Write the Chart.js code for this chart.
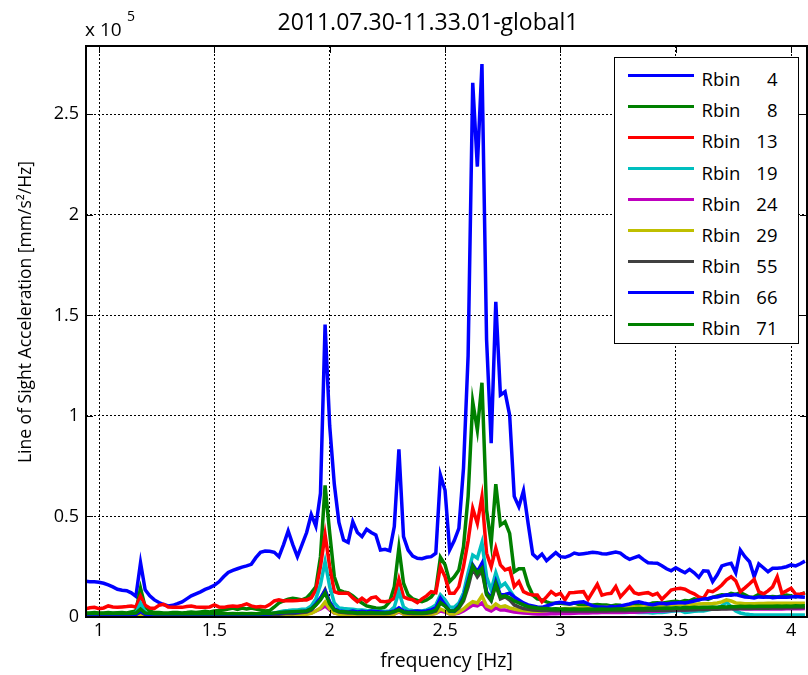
<!DOCTYPE html>
<html><head><meta charset="utf-8">
<script src="https://cdn.jsdelivr.net/npm/chart.js@4.4.1/dist/chart.umd.min.js"></script>
<style>
html,body{margin:0;padding:0;background:#fff;}
#wrap{position:relative;width:808px;height:675px;font-family:"Open Sans",sans-serif;color:#000;}
#c{position:absolute;left:0;top:0;}
#legend{position:absolute;left:614px;top:57px;width:185px;height:287px;box-sizing:border-box;border:1.5px solid #000;background:#fff;}
.row{position:absolute;left:0;width:100%;height:30px;}
.sw{position:absolute;left:12.5px;width:66px;height:3px;top:13.5px;}
.lb{position:absolute;left:86.5px;top:4px;line-height:30px;font-size:18.5px;}
.nm{position:absolute;right:20.5px;top:4px;line-height:30px;font-size:18.5px;}
</style>
</head><body>
<div id="wrap">
<canvas id="c" width="808" height="675"></canvas>
<div id="legend"></div>
</div>
<script>
const chartTitle = '2011.07.30-11.33.01-global1';
const xTitle = 'frequency [Hz]';
const yTitle = 'Line of Sight Acceleration [mm/s\u00B2/Hz]';
const yMultiplier = ['x 10', '5'];
const xTickValues = [1, 1.5, 2, 2.5, 3, 3.5, 4];
const yTickValues = [0, 0.5, 1, 1.5, 2, 2.5];
const binNumbers = [4, 8, 13, 19, 24, 29, 55, 66, 71];
const seriesColors = ['#0000ff', '#008000', '#ff0000', '#00bfbf', '#bf00bf', '#bfbf00', '#404040', '#0000ff', '#008000'];

// frequency [Hz]
const freq = [
0.94,0.96,0.98,1.00,1.02,1.04,1.06,1.08,1.10,1.12,
1.14,1.16,1.18,1.20,1.22,1.24,1.26,1.28,1.30,1.32,
1.34,1.36,1.38,1.40,1.42,1.44,1.46,1.48,1.50,1.52,
1.54,1.56,1.58,1.60,1.62,1.64,1.66,1.68,1.70,1.72,
1.74,1.76,1.78,1.80,1.82,1.84,1.86,1.88,1.90,1.92,
1.94,1.96,1.98,2.00,2.02,2.04,2.06,2.08,2.10,2.12,
2.14,2.16,2.18,2.20,2.22,2.24,2.26,2.28,2.30,2.32,
2.34,2.36,2.38,2.40,2.42,2.44,2.46,2.48,2.50,2.52,
2.54,2.56,2.58,2.60,2.62,2.64,2.66,2.68,2.70,2.72,
2.74,2.76,2.78,2.80,2.82,2.84,2.86,2.88,2.90,2.92,
2.94,2.96,2.98,3.00,3.02,3.04,3.06,3.08,3.10,3.12,
3.14,3.16,3.18,3.20,3.22,3.24,3.26,3.28,3.30,3.32,
3.34,3.36,3.38,3.40,3.42,3.44,3.46,3.48,3.50,3.52,
3.54,3.56,3.58,3.60,3.62,3.64,3.66,3.68,3.70,3.72,
3.74,3.76,3.78,3.80,3.82,3.84,3.86,3.88,3.90,3.92,
3.94,3.96,3.98,4.00,4.02,4.04,4.06];

// values in units of 10^5 mm/s^2/Hz
const rbin4 = [
0.178,0.175,0.175,0.173,0.168,0.160,0.150,0.138,0.133,0.131,
0.120,0.103,0.270,0.135,0.105,0.085,0.072,0.062,0.055,0.058,
0.066,0.075,0.090,0.105,0.115,0.125,0.137,0.146,0.158,0.175,
0.200,0.222,0.232,0.240,0.248,0.254,0.262,0.295,0.322,0.328,
0.327,0.322,0.300,0.360,0.428,0.360,0.300,0.360,0.420,0.510,
0.452,0.615,1.455,0.950,0.660,0.470,0.383,0.371,0.474,0.420,
0.400,0.436,0.420,0.408,0.333,0.337,0.330,0.450,0.834,0.400,
0.333,0.303,0.292,0.290,0.297,0.300,0.317,0.706,0.630,0.333,
0.380,0.441,0.740,1.300,2.657,2.240,2.750,1.380,0.864,1.568,
1.104,1.120,1.004,0.600,0.549,0.628,0.466,0.313,0.292,0.313,
0.280,0.300,0.320,0.300,0.297,0.305,0.318,0.312,0.315,0.318,
0.322,0.320,0.315,0.313,0.318,0.323,0.318,0.300,0.287,0.295,
0.303,0.285,0.270,0.268,0.267,0.255,0.240,0.230,0.245,0.232,
0.220,0.237,0.220,0.197,0.230,0.228,0.176,0.210,0.254,0.262,
0.267,0.220,0.333,0.300,0.275,0.200,0.264,0.245,0.225,0.242,
0.243,0.245,0.250,0.259,0.254,0.265,0.278];

const rbin8 = [
0.020,0.020,0.022,0.020,0.020,0.022,0.020,0.021,0.022,0.020,
0.025,0.030,0.143,0.050,0.030,0.022,0.022,0.020,0.020,0.022,
0.022,0.020,0.022,0.025,0.022,0.025,0.028,0.025,0.030,0.032,
0.035,0.040,0.045,0.038,0.045,0.040,0.045,0.040,0.035,0.030,
0.032,0.050,0.070,0.080,0.088,0.093,0.090,0.085,0.095,0.120,
0.150,0.300,0.655,0.418,0.200,0.134,0.125,0.120,0.105,0.085,
0.070,0.055,0.050,0.045,0.043,0.050,0.076,0.150,0.345,0.168,
0.110,0.090,0.082,0.076,0.085,0.100,0.130,0.297,0.260,0.176,
0.200,0.234,0.350,0.600,1.070,0.930,1.165,0.532,0.366,0.661,
0.457,0.474,0.416,0.225,0.240,0.240,0.160,0.109,0.090,0.085,
0.075,0.068,0.068,0.068,0.066,0.065,0.070,0.062,0.060,0.058,
0.060,0.062,0.060,0.060,0.055,0.060,0.058,0.048,0.062,0.066,
0.060,0.055,0.062,0.070,0.071,0.068,0.072,0.076,0.078,0.075,
0.082,0.080,0.090,0.085,0.095,0.088,0.098,0.105,0.110,0.108,
0.118,0.112,0.121,0.110,0.098,0.100,0.112,0.105,0.100,0.102,
0.100,0.105,0.109,0.105,0.100,0.110,0.121];

const rbin13 = [
0.040,0.046,0.048,0.041,0.045,0.055,0.050,0.048,0.050,0.052,
0.055,0.050,0.104,0.058,0.045,0.043,0.058,0.063,0.050,0.048,
0.048,0.048,0.052,0.055,0.050,0.048,0.048,0.050,0.060,0.050,
0.048,0.052,0.055,0.052,0.058,0.065,0.055,0.050,0.052,0.050,
0.062,0.080,0.085,0.080,0.082,0.081,0.082,0.085,0.085,0.095,
0.134,0.250,0.410,0.250,0.126,0.118,0.118,0.118,0.095,0.076,
0.093,0.076,0.095,0.100,0.078,0.076,0.080,0.093,0.187,0.100,
0.090,0.085,0.071,0.090,0.105,0.126,0.121,0.250,0.200,0.118,
0.118,0.151,0.250,0.380,0.540,0.466,0.598,0.317,0.250,0.342,
0.259,0.234,0.242,0.151,0.176,0.126,0.115,0.109,0.109,0.076,
0.100,0.126,0.109,0.118,0.085,0.121,0.122,0.124,0.126,0.088,
0.125,0.163,0.109,0.115,0.118,0.151,0.100,0.125,0.151,0.121,
0.114,0.118,0.121,0.109,0.118,0.088,0.110,0.134,0.140,0.143,
0.138,0.125,0.115,0.100,0.093,0.130,0.126,0.140,0.159,0.185,
0.200,0.180,0.126,0.145,0.165,0.187,0.126,0.115,0.130,0.150,
0.200,0.118,0.130,0.143,0.113,0.115,0.118];

const rbin19 = [
0.012,0.012,0.013,0.012,0.012,0.013,0.012,0.012,0.013,0.012,
0.015,0.020,0.068,0.025,0.012,0.010,0.010,0.010,0.010,0.010,
0.010,0.010,0.010,0.010,0.010,0.010,0.010,0.010,0.010,0.010,
0.010,0.010,0.012,0.010,0.012,0.010,0.012,0.010,0.010,0.012,
0.015,0.020,0.025,0.030,0.032,0.035,0.035,0.038,0.040,0.055,
0.090,0.160,0.275,0.150,0.070,0.045,0.042,0.040,0.038,0.035,
0.035,0.032,0.030,0.030,0.028,0.028,0.030,0.050,0.126,0.050,
0.035,0.032,0.030,0.030,0.035,0.045,0.060,0.110,0.085,0.050,
0.048,0.070,0.120,0.220,0.308,0.292,0.370,0.200,0.134,0.220,
0.151,0.168,0.134,0.100,0.076,0.060,0.050,0.045,0.040,0.038,
0.035,0.035,0.032,0.030,0.030,0.028,0.028,0.030,0.028,0.028,
0.026,0.026,0.025,0.025,0.024,0.025,0.024,0.023,0.024,0.024,
0.022,0.022,0.022,0.020,0.022,0.022,0.025,0.028,0.030,0.032,
0.022,0.025,0.028,0.030,0.030,0.035,0.040,0.045,0.055,0.075,
0.050,0.030,0.020,0.015,0.012,0.010,0.010,0.010,0.010,0.010,
0.010,0.010,0.010,0.010,0.010,0.010,0.010];

const rbin24 = [
0.006,0.006,0.006,0.006,0.006,0.006,0.006,0.006,0.006,0.006,
0.006,0.008,0.015,0.008,0.006,0.005,0.005,0.005,0.005,0.005,
0.005,0.005,0.005,0.005,0.005,0.005,0.005,0.005,0.005,0.005,
0.005,0.005,0.006,0.005,0.006,0.005,0.006,0.006,0.005,0.006,
0.007,0.008,0.010,0.012,0.012,0.013,0.014,0.015,0.016,0.020,
0.030,0.040,0.055,0.035,0.020,0.016,0.015,0.014,0.013,0.012,
0.012,0.012,0.011,0.011,0.011,0.011,0.012,0.015,0.025,0.015,
0.012,0.011,0.011,0.011,0.012,0.014,0.018,0.030,0.025,0.015,
0.015,0.020,0.030,0.045,0.060,0.055,0.070,0.040,0.030,0.045,
0.035,0.035,0.030,0.025,0.022,0.020,0.018,0.016,0.015,0.015,
0.015,0.016,0.016,0.017,0.018,0.018,0.019,0.020,0.020,0.020,
0.021,0.021,0.022,0.022,0.022,0.023,0.023,0.024,0.024,0.024,
0.025,0.026,0.027,0.028,0.029,0.030,0.031,0.032,0.033,0.034,
0.035,0.036,0.037,0.038,0.039,0.040,0.040,0.041,0.042,0.042,
0.042,0.041,0.041,0.040,0.040,0.040,0.040,0.040,0.040,0.040,
0.040,0.040,0.041,0.041,0.041,0.041,0.042];

const rbin29 = [
0.005,0.005,0.005,0.005,0.005,0.005,0.005,0.005,0.005,0.005,
0.005,0.006,0.012,0.006,0.005,0.004,0.004,0.004,0.004,0.004,
0.004,0.004,0.004,0.004,0.004,0.004,0.004,0.004,0.004,0.004,
0.004,0.004,0.005,0.004,0.005,0.004,0.005,0.005,0.004,0.005,
0.006,0.007,0.008,0.010,0.010,0.011,0.012,0.013,0.014,0.018,
0.030,0.045,0.075,0.040,0.020,0.013,0.012,0.011,0.010,0.010,
0.010,0.010,0.010,0.010,0.010,0.010,0.011,0.015,0.030,0.015,
0.010,0.010,0.010,0.010,0.011,0.013,0.018,0.040,0.030,0.015,
0.015,0.025,0.040,0.060,0.076,0.070,0.105,0.055,0.045,0.065,
0.050,0.055,0.045,0.040,0.035,0.032,0.030,0.028,0.028,0.030,
0.032,0.035,0.038,0.040,0.042,0.042,0.044,0.045,0.045,0.046,
0.046,0.047,0.048,0.048,0.048,0.049,0.050,0.050,0.050,0.050,
0.050,0.051,0.052,0.053,0.054,0.055,0.056,0.058,0.060,0.062,
0.062,0.063,0.064,0.065,0.066,0.066,0.067,0.070,0.075,0.085,
0.080,0.070,0.068,0.066,0.066,0.066,0.067,0.067,0.068,0.068,
0.068,0.068,0.068,0.068,0.068,0.068,0.068];

const rbin55 = [
0.010,0.010,0.010,0.010,0.010,0.010,0.010,0.010,0.010,0.010,
0.010,0.012,0.025,0.012,0.010,0.008,0.008,0.008,0.008,0.008,
0.008,0.008,0.008,0.008,0.008,0.008,0.008,0.008,0.008,0.008,
0.008,0.008,0.009,0.008,0.009,0.008,0.009,0.008,0.008,0.009,
0.010,0.012,0.014,0.016,0.018,0.018,0.020,0.022,0.025,0.035,
0.060,0.090,0.135,0.070,0.035,0.025,0.022,0.020,0.020,0.018,
0.018,0.018,0.017,0.017,0.017,0.017,0.018,0.025,0.040,0.022,
0.018,0.017,0.017,0.017,0.018,0.022,0.030,0.070,0.055,0.030,
0.028,0.045,0.080,0.150,0.242,0.200,0.230,0.110,0.080,0.160,
0.090,0.100,0.085,0.060,0.050,0.042,0.038,0.035,0.033,0.032,
0.032,0.032,0.031,0.031,0.030,0.030,0.030,0.030,0.030,0.030,
0.030,0.030,0.030,0.030,0.031,0.031,0.031,0.031,0.032,0.032,
0.032,0.032,0.033,0.033,0.033,0.034,0.034,0.034,0.035,0.035,
0.035,0.036,0.036,0.037,0.037,0.038,0.038,0.039,0.040,0.040,
0.041,0.041,0.042,0.042,0.042,0.043,0.043,0.044,0.044,0.045,
0.045,0.045,0.046,0.046,0.046,0.047,0.047];

const rbin66 = [
0.012,0.012,0.012,0.012,0.012,0.012,0.012,0.012,0.012,0.012,
0.012,0.014,0.030,0.015,0.012,0.010,0.010,0.010,0.010,0.010,
0.010,0.010,0.010,0.010,0.010,0.010,0.010,0.010,0.010,0.010,
0.010,0.010,0.011,0.010,0.011,0.010,0.011,0.012,0.012,0.014,
0.015,0.018,0.020,0.022,0.024,0.025,0.025,0.028,0.030,0.040,
0.065,0.095,0.130,0.075,0.040,0.030,0.028,0.025,0.030,0.025,
0.028,0.025,0.030,0.028,0.025,0.022,0.025,0.030,0.045,0.030,
0.025,0.028,0.030,0.028,0.030,0.035,0.045,0.093,0.060,0.030,
0.030,0.055,0.100,0.180,0.259,0.225,0.267,0.126,0.093,0.176,
0.109,0.112,0.118,0.100,0.085,0.070,0.060,0.055,0.050,0.048,
0.055,0.062,0.070,0.073,0.070,0.065,0.070,0.074,0.076,0.065,
0.055,0.050,0.050,0.048,0.052,0.050,0.055,0.060,0.065,0.072,
0.076,0.070,0.065,0.060,0.066,0.068,0.065,0.068,0.070,0.072,
0.070,0.075,0.080,0.085,0.090,0.092,0.098,0.100,0.105,0.110,
0.108,0.112,0.105,0.100,0.098,0.095,0.100,0.098,0.100,0.096,
0.098,0.100,0.098,0.100,0.102,0.100,0.098];

const rbin71 = [
0.018,0.018,0.018,0.018,0.018,0.018,0.018,0.018,0.018,0.018,
0.018,0.020,0.040,0.020,0.018,0.016,0.016,0.016,0.016,0.016,
0.016,0.016,0.016,0.016,0.016,0.016,0.016,0.016,0.016,0.016,
0.016,0.016,0.017,0.016,0.017,0.016,0.017,0.016,0.016,0.018,
0.018,0.020,0.022,0.024,0.025,0.026,0.027,0.028,0.030,0.040,
0.060,0.085,0.120,0.065,0.035,0.028,0.026,0.024,0.022,0.020,
0.022,0.020,0.022,0.020,0.020,0.020,0.022,0.028,0.035,0.025,
0.022,0.022,0.020,0.020,0.022,0.026,0.035,0.072,0.055,0.030,
0.030,0.050,0.090,0.170,0.254,0.217,0.242,0.115,0.085,0.165,
0.100,0.105,0.095,0.080,0.070,0.060,0.052,0.048,0.045,0.042,
0.042,0.040,0.041,0.039,0.040,0.038,0.040,0.039,0.038,0.040,
0.039,0.038,0.040,0.039,0.038,0.040,0.041,0.039,0.040,0.041,
0.042,0.041,0.043,0.042,0.044,0.043,0.045,0.044,0.046,0.045,
0.047,0.046,0.048,0.047,0.049,0.048,0.050,0.049,0.051,0.050,
0.052,0.051,0.053,0.052,0.053,0.052,0.054,0.053,0.054,0.053,
0.055,0.054,0.055,0.054,0.056,0.055,0.056];

const seriesValues = [rbin4, rbin8, rbin13, rbin19, rbin24, rbin29, rbin55, rbin66, rbin71];

const FONT = '"Open Sans", sans-serif';
Chart.defaults.font.family = FONT;
Chart.defaults.color = '#000';

const datasets = seriesValues.map((vals, i) => ({
  label: 'Rbin ' + binNumbers[i],
  data: freq.map((f, k) => ({x: f, y: vals[k]})),
  borderColor: seriesColors[i],
  backgroundColor: seriesColors[i],
  borderWidth: 3.5,
  pointRadius: 0,
  tension: 0,
  fill: false,
  order: seriesValues.length - i,
  clip: {left: 0, right: 0, top: 5, bottom: 5}
}));

const frame = {
  id: 'frame',
  afterDraw(chart) {
    const {ctx, chartArea: a, scales: {x, y}} = chart;
    ctx.save();
    ctx.strokeStyle = '#000';
    ctx.lineWidth = 1;
    const L = 7;
    ctx.beginPath();
    x.ticks.forEach(t => {
      const px = Math.round(x.getPixelForValue(t.value)) + 0.5;
      ctx.moveTo(px, a.bottom); ctx.lineTo(px, a.bottom - L);
      ctx.moveTo(px, a.top); ctx.lineTo(px, a.top + L);
    });
    y.ticks.forEach(t => {
      const py = Math.round(y.getPixelForValue(t.value)) + 0.5;
      ctx.moveTo(a.left, py); ctx.lineTo(a.left + L, py);
      ctx.moveTo(a.right, py); ctx.lineTo(a.right - L, py);
    });
    ctx.stroke();
    ctx.lineWidth = 2;
    ctx.strokeRect(a.left, a.top, a.right - a.left, a.bottom - a.top);
    ctx.fillStyle = '#000';
    ctx.textBaseline = 'alphabetic';
    ctx.textAlign = 'center';
    ctx.font = '23px ' + FONT;
    ctx.fillText(chartTitle, 428, 30);
    ctx.textAlign = 'left';
    ctx.font = '19px ' + FONT;
    ctx.fillText(yMultiplier[0], 85, 36);
    ctx.font = '14px ' + FONT;
    ctx.fillText(yMultiplier[1], 127, 21);
    ctx.translate(26, 312);
    ctx.rotate(-Math.PI / 2);
    ctx.textAlign = 'center';
    ctx.textBaseline = 'middle';
    ctx.font = '17.5px ' + FONT;
    ctx.fillText(yTitle, 0, 0);
    ctx.restore();
  }
};

new Chart(document.getElementById('c'), {
  type: 'line',
  data: {datasets},
  options: {
    responsive: false,
    animation: false,
    events: [],
    layout: {padding: {top: 46, right: 1, bottom: 0, left: 0}},
    plugins: {legend: {display: false}, title: {display: false}, tooltip: {enabled: false}},
    scales: {
      x: {
        type: 'linear',
        min: 0.9436,
        max: 4.069,
        ticks: {font: {size: 18}, padding: 3, maxRotation: 0, callback: v => String(v)},
        afterBuildTicks: s => { s.ticks = xTickValues.map(v => ({value: v})); },
        afterFit: s => { s.height = 58; },
        grid: {color: '#000', lineWidth: 1, drawTicks: false},
        border: {display: false, dash: [2, 2]},
        title: {display: true, text: xTitle, font: {size: 19.5}, padding: {top: 0, bottom: 2}}
      },
      y: {
        type: 'linear',
        min: 0,
        max: 2.84,
        ticks: {font: {size: 18}, padding: 7, callback: v => String(v)},
        afterBuildTicks: s => { s.ticks = yTickValues.map(v => ({value: v})); },
        afterFit: s => { s.width = 86; },
        grid: {color: '#000', lineWidth: 1, drawTicks: false},
        border: {display: false, dash: [2, 2]}
      }
    }
  },
  plugins: [frame]
});

// legend (HTML)
const leg = document.getElementById('legend');
binNumbers.forEach((b, i) => {
  const row = document.createElement('div');
  row.className = 'row';
  row.style.top = (17.2 + 31.1 * i - 15) + 'px';
  const sw = document.createElement('div');
  sw.className = 'sw';
  sw.style.background = seriesColors[i];
  const lb = document.createElement('span');
  lb.className = 'lb';
  lb.textContent = 'Rbin';
  const nm = document.createElement('span');
  nm.className = 'nm';
  nm.textContent = String(b);
  row.appendChild(sw); row.appendChild(lb); row.appendChild(nm);
  leg.appendChild(row);
});
</script>
</body></html>
